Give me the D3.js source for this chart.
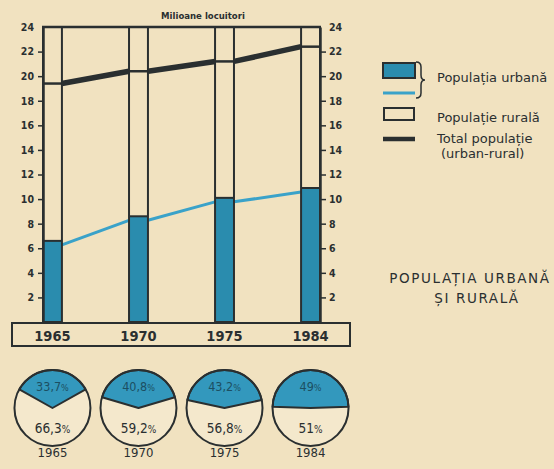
<!DOCTYPE html>
<html>
<head>
<meta charset="utf-8">
<script src="https://cdn.jsdelivr.net/npm/d3@7"></script>
<style>
  html, body { margin: 0; padding: 0; background: #f1e2c0; }
  svg { display: block; }
  text { font-family: "DejaVu Sans Condensed", "DejaVu Sans", sans-serif; fill: #2a2f30; }
</style>
</head>
<body>
<svg id="chart" width="554" height="469"></svg>
<script>
// Population of Romania, millions of inhabitants
const years = ["1965", "1970", "1975", "1984"];
const urban = [6.6, 8.6, 10.1, 10.9];
const total = [19.4, 20.4, 21.2, 22.4];
const urbanPct = [33.7, 40.8, 43.2, 49];
const ruralPct = [66.3, 59.2, 56.8, 51];
const pctLabels = ["33,7", "40,8", "43,2", "49"];
const ruralLabels = ["66,3", "59,2", "56,8", "51"];
const yTicks = [2, 4, 6, 8, 10, 12, 14, 16, 18, 20, 22, 24];

const DARK = "#2a2f30";
const BLUE = "#2a8cae";
const BLUE_LINE = "#3aa2c9";
const PIE_BLUE = "#3398bd";

const svg = d3.select("#chart");

const y = d3.scaleLinear().domain([0, 24]).range([322, 27]);
const x = d3.scaleBand().domain(years).range([43, 320]).paddingInner(0.78).paddingOuter(0);
const bw = x.bandwidth();

// title over the plot
svg.append("text").attr("x", 203).attr("y", 19).attr("text-anchor", "middle")
  .style("font-size", "9.5px").style("font-weight", "bold").text("Milioane locuitori");

// urban part of each bar
svg.append("g").selectAll("rect").data(years).join("rect")
  .attr("x", d => x(d)).attr("width", bw)
  .attr("y", (d, i) => y(urban[i]))
  .attr("height", (d, i) => y(0) + 2 - y(urban[i]))
  .attr("fill", BLUE);

// urban population line between bars
const urbanSegs = d3.range(years.length - 1).map(i => [
  [x(years[i]) + bw, y(urban[i]) + 4],
  [x(years[i + 1]), y(urban[i + 1]) + 4]
]);
svg.append("g").selectAll("line").data(urbanSegs).join("line")
  .attr("x1", d => d[0][0]).attr("y1", d => d[0][1])
  .attr("x2", d => d[1][0]).attr("y2", d => d[1][1])
  .attr("stroke", BLUE_LINE).attr("stroke-width", 3);

// bar outlines (full height) and urban dividers
svg.append("g").selectAll("rect").data(years).join("rect")
  .attr("x", d => x(d)).attr("width", bw)
  .attr("y", y(24)).attr("height", y(0) - y(24))
  .attr("fill", "none").attr("stroke", DARK).attr("stroke-width", 2);
svg.append("g").selectAll("line").data(years).join("line")
  .attr("x1", d => x(d)).attr("x2", d => x(d) + bw)
  .attr("y1", (d, i) => y(urban[i])).attr("y2", (d, i) => y(urban[i]))
  .attr("stroke", DARK).attr("stroke-width", 2);

// total population: thin level inside bars, thick links between them
svg.append("g").selectAll("line").data(years).join("line")
  .attr("x1", d => x(d)).attr("x2", d => x(d) + bw)
  .attr("y1", (d, i) => y(total[i])).attr("y2", (d, i) => y(total[i]))
  .attr("stroke", DARK).attr("stroke-width", 2.5);
const totalSegs = d3.range(years.length - 1).map(i => [
  [x(years[i]) + bw, y(total[i])],
  [x(years[i + 1]), y(total[i + 1])]
]);
svg.append("g").selectAll("line").data(totalSegs).join("line")
  .attr("x1", d => d[0][0]).attr("y1", d => d[0][1])
  .attr("x2", d => d[1][0]).attr("y2", d => d[1][1])
  .attr("stroke", DARK).attr("stroke-width", 5.5);

// frame top
svg.append("line").attr("x1", 42).attr("x2", 321).attr("y1", y(24)).attr("y2", y(24))
  .attr("stroke", DARK).attr("stroke-width", 2.5);

// axes
function styleAxis(g) {
  g.select(".domain").attr("stroke", DARK).attr("stroke-width", 2.5);
  g.selectAll(".tick line").attr("stroke", DARK).attr("stroke-width", 1.5)
    .attr("opacity", d => d === 24 ? 0 : 1);
  g.selectAll(".tick text").style("font-size", "10.5px").style("font-weight", "bold")
    .attr("fill", DARK).style("font-family", "'DejaVu Sans Condensed', sans-serif");
}
svg.append("g").attr("transform", "translate(43,0)")
  .call(d3.axisLeft(y).tickValues(yTicks).tickSize(5).tickPadding(4).tickSizeOuter(0))
  .call(styleAxis);
svg.append("g").attr("transform", "translate(320,0)")
  .call(d3.axisRight(y).tickValues(yTicks).tickSize(6).tickPadding(3).tickSizeOuter(0))
  .call(styleAxis);

// year box under the bars
svg.append("rect").attr("x", 12).attr("y", 323).attr("width", 338).attr("height", 23)
  .attr("fill", "none").attr("stroke", DARK).attr("stroke-width", 2);
svg.append("g").selectAll("text").data(years).join("text")
  .attr("x", d => x(d) + bw / 2).attr("y", 341).attr("text-anchor", "middle")
  .style("font-size", "14.5px").style("font-weight", "bold").text(d => d);

// share pies
const pieR = 38;
const pieY = 408;
const arc = d3.arc().innerRadius(0).outerRadius(pieR);
const pies = svg.append("g").selectAll("g").data(years).join("g")
  .attr("transform", d => `translate(${x(d) + bw / 2},${pieY})`);
pies.append("circle").attr("r", pieR).attr("fill", "#f4e8cc");
pies.append("path")
  .attr("d", (d, i) => {
    const a = urbanPct[i] / 100 * Math.PI;
    return arc({ startAngle: -a, endAngle: a });
  })
  .attr("fill", PIE_BLUE).attr("stroke", DARK).attr("stroke-width", 2).attr("stroke-linejoin", "round");
pies.append("circle").attr("r", pieR).attr("fill", "none").attr("stroke", DARK).attr("stroke-width", 2);

const topLbl = pies.append("text").attr("y", -17).attr("text-anchor", "middle")
  .style("font-size", "12.5px").style("fill", "#1c4f62");
topLbl.append("tspan").text((d, i) => pctLabels[i]).style("fill", "#1c4f62");
topLbl.append("tspan").text("%").style("font-size", "9px").style("fill", "#1c4f62");

const botLbl = pies.append("text").attr("y", 25).attr("text-anchor", "middle")
  .style("font-size", "13.5px");
botLbl.append("tspan").text((d, i) => ruralLabels[i]);
botLbl.append("tspan").text("%").style("font-size", "10px");

pies.append("text").attr("y", 49).attr("text-anchor", "middle")
  .style("font-size", "13px").text(d => d);

// legend
const lg = svg.append("g");
lg.append("rect").attr("x", 383).attr("y", 63).attr("width", 32).attr("height", 15)
  .attr("fill", BLUE).attr("stroke", DARK).attr("stroke-width", 2);
lg.append("line").attr("x1", 383).attr("x2", 415).attr("y1", 93).attr("y2", 93)
  .attr("stroke", BLUE_LINE).attr("stroke-width", 3);
lg.append("path")
  .attr("d", "M416,62 q5,0 5,5 v8 q0,5 4,5 q-4,0 -4,5 v8 q0,5 -5,5")
  .attr("fill", "none").attr("stroke", DARK).attr("stroke-width", 1.5);
lg.append("rect").attr("x", 384).attr("y", 108).attr("width", 30).attr("height", 12)
  .attr("fill", "none").attr("stroke", DARK).attr("stroke-width", 2);
lg.append("line").attr("x1", 383).attr("x2", 415).attr("y1", 139).attr("y2", 139)
  .attr("stroke", DARK).attr("stroke-width", 4.5);

const legendText = [
  { t: "Populația urbană", x: 437, y: 82 },
  { t: "Populație rurală", x: 437, y: 122 },
  { t: "Total populație", x: 437, y: 143 },
  { t: "(urban-rural)", x: 441, y: 158 }
];
lg.selectAll("text").data(legendText).join("text")
  .attr("x", d => d.x).attr("y", d => d.y)
  .style("font-family", "'DejaVu Sans', sans-serif").style("font-size", "13px").text(d => d.t);

// chart heading
svg.append("text").attr("x", 470).attr("y", 283).attr("text-anchor", "middle")
  .style("font-family", "'DejaVu Sans', sans-serif").style("font-size", "13.5px")
  .style("letter-spacing", "1.6px").text("POPULAȚIA URBANĂ");
svg.append("text").attr("x", 477).attr("y", 303).attr("text-anchor", "middle")
  .style("font-family", "'DejaVu Sans', sans-serif").style("font-size", "13.5px")
  .style("letter-spacing", "1.6px").text("ȘI RURALĂ");
</script>
</body>
</html>
